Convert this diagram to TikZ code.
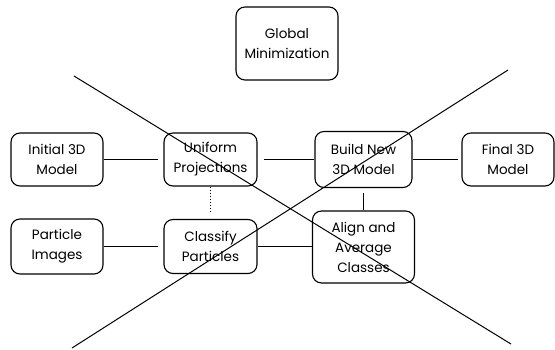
\documentclass[tikz,border=0pt]{standalone}
\usepackage{fontspec}
\setmainfont{Poppins}
\begin{document}
\begin{tikzpicture}[x=1pt,y=-1pt,
  stage/.style={draw, line width=1.1pt, rounded corners=9pt, align=center,
    inner sep=0pt, font=\fontsize{13.5}{20}\selectfont},
  link/.style={line width=1.1pt},
  cross/.style={line width=1pt}]
\useasboundingbox (0,0) rectangle (555,349);

% process stages
\node[stage, minimum width=102pt, minimum height=73pt] (glob)  at (287,43.5)  {Global\\Minimization};
\node[stage, minimum width=92pt,  minimum height=53pt] (init)  at (57,159.5)  {Initial 3D\\Model};
\node[stage, minimum width=93pt,  minimum height=53pt] (unif)  at (210.5,159.5) {Uniform\\Projections};
\node[stage, minimum width=97pt,  minimum height=56pt] (build) at (363.5,159.5)  {Build New\\3D Model};
\node[stage, minimum width=92pt,  minimum height=53pt] (final) at (508,159.5)  {Final 3D\\Model};
\node[stage, minimum width=92pt,  minimum height=55pt] (part)  at (57,246.5)  {Particle\\Images};
\node[stage, minimum width=93pt,  minimum height=54pt] (class) at (210.5,246.5)  {Classify\\Particles};
\node[stage, minimum width=102pt, minimum height=72pt] (align) at (363.5,247)    {Align and\\Average\\Classes};

% connectors
\draw[link, shorten >=5pt] (init) -- (unif);
\draw[link, shorten <=6pt] (unif) -- (build);
\draw[link, shorten >=3pt] (build) -- (final);
\draw[link, shorten >=5pt] (part) -- (class);
\draw[link] (class.east) -- (class.east -| align.west);
\draw[link, shorten <=5pt] (build) -- (align);
\draw[line width=1.3pt, dash pattern=on 1.3pt off 1.7pt, shorten >=7pt] (unif) -- (class);

% crossing-out strokes
\coordinate (xa1) at (74,76);
\coordinate (xa2) at (511,344);
\coordinate (xb1) at (72,348);
\coordinate (xb2) at (508,70);
\draw[cross] (xa1) -- (xa2);
\draw[cross] (xb1) -- (xb2);
\end{tikzpicture}
\end{document}
